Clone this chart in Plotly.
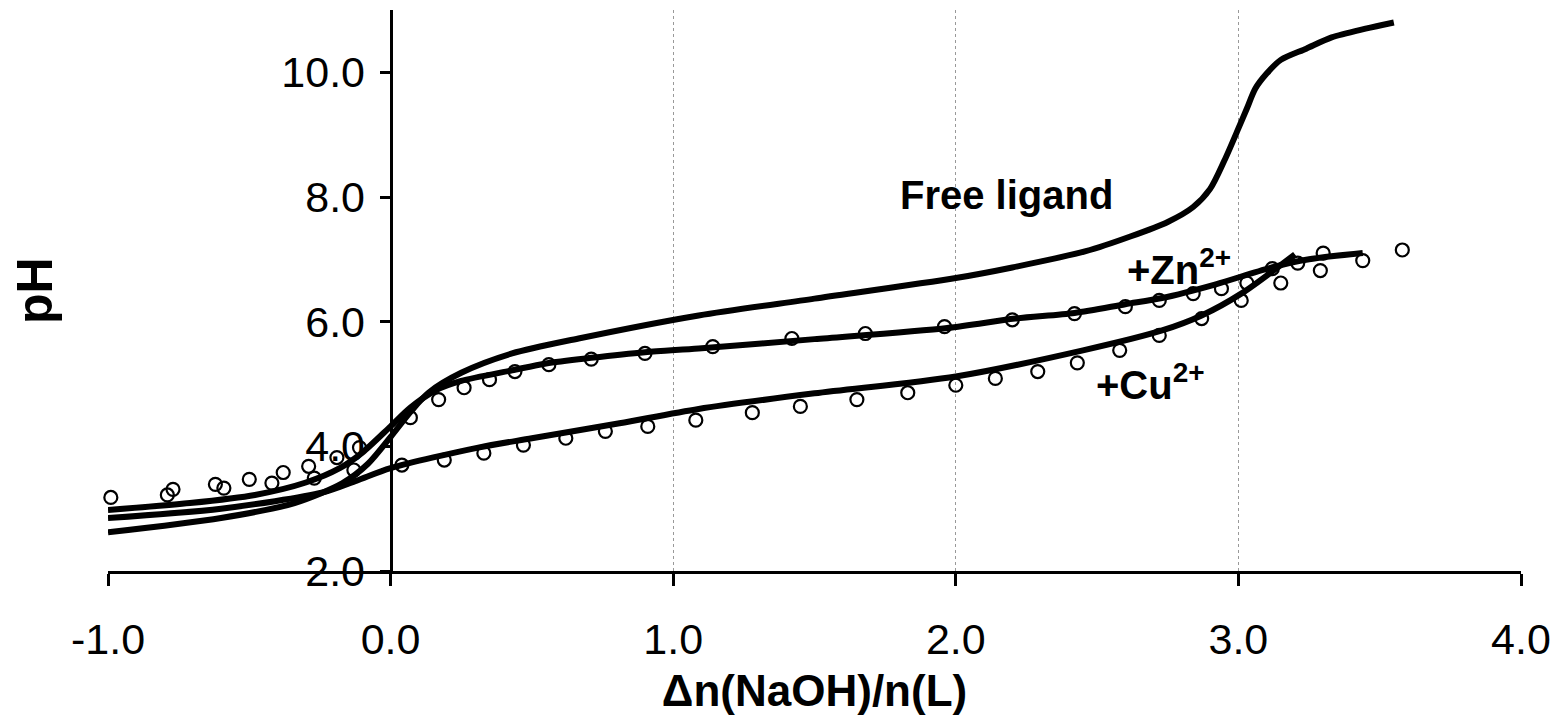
import plotly.graph_objects as go

# Titration curves: pH versus equivalents of NaOH per ligand
free_x = [-1.0, -0.6, -0.34, -0.17, -0.08, 0.0, 0.07, 0.134, 0.25, 0.43, 0.665, 1.09, 1.5, 2.0,
          2.2, 2.46, 2.62, 2.75, 2.84, 2.9, 2.95, 3.0, 3.03, 3.06, 3.1, 3.15, 3.24, 3.33, 3.45, 3.55]
free_y = [2.62, 2.85, 3.09, 3.41, 3.72, 4.15, 4.55, 4.86, 5.18, 5.49, 5.73, 6.1, 6.37, 6.7,
          6.87, 7.13, 7.37, 7.6, 7.84, 8.13, 8.58, 9.1, 9.42, 9.74, 9.98, 10.2, 10.38, 10.56, 10.7, 10.8]

zn_x = [-1.0, -0.71, -0.48, -0.3, -0.18, -0.1, 0.0, 0.07, 0.16, 0.25, 0.43, 0.55, 0.71, 0.9,
        1.09, 1.5, 1.97, 2.21, 2.42, 2.6, 2.73, 2.92, 3.11, 3.25, 3.44]
zn_y = [2.98, 3.09, 3.22, 3.42, 3.65, 3.9, 4.32, 4.62, 4.9, 5.05, 5.22, 5.33, 5.42, 5.51,
        5.57, 5.72, 5.9, 6.05, 6.14, 6.28, 6.38, 6.6, 6.86, 7.0, 7.1]

cu_x = [-1.0, -0.6, -0.24, -0.12, 0.0, 0.31, 0.5, 0.81, 1.09, 1.5, 2.0, 2.45, 2.73, 2.87, 3.01, 3.2]
cu_y = [2.85, 3.0, 3.26, 3.45, 3.65, 3.98, 4.13, 4.37, 4.6, 4.85, 5.12, 5.54, 5.86, 6.1, 6.45, 7.08]

# Measured points
zn_pts_x = [-0.99, -0.77, -0.62, -0.5, -0.38, -0.29, -0.19, -0.11, 0.07, 0.17, 0.26, 0.35, 0.44,
            0.56, 0.71, 0.9, 1.14, 1.42, 1.68, 1.96, 2.2, 2.42, 2.6, 2.72, 2.84, 2.94, 3.03,
            3.12, 3.21, 3.3, 3.44, 3.58]
zn_pts_y = [3.18, 3.31, 3.39, 3.47, 3.58, 3.68, 3.82, 3.98, 4.46, 4.75, 4.94, 5.07, 5.2,
            5.31, 5.4, 5.49, 5.6, 5.73, 5.81, 5.92, 6.03, 6.13, 6.24, 6.34, 6.45, 6.53, 6.62,
            6.85, 6.94, 7.1, 6.98, 7.15]

cu_pts_x = [-0.79, -0.59, -0.42, -0.27, -0.13, 0.04, 0.19, 0.33, 0.47, 0.62, 0.76, 0.91, 1.08,
            1.28, 1.45, 1.65, 1.83, 2.0, 2.14, 2.29, 2.43, 2.58, 2.72, 2.87, 3.01, 3.15, 3.29]
cu_pts_y = [3.22, 3.33, 3.41, 3.49, 3.62, 3.7, 3.78, 3.89, 4.02, 4.13, 4.24, 4.32, 4.42,
            4.54, 4.64, 4.75, 4.86, 4.98, 5.09, 5.2, 5.34, 5.54, 5.78, 6.05, 6.34, 6.62, 6.82]

x_ticks = [-1, 0, 1, 2, 3, 4]
x_tick_text = ["-1.0", "0.0", "1.0", "2.0", "3.0", "4.0"]
y_ticks = [2, 4, 6, 8, 10]
y_tick_text = ["2.0", "4.0", "6.0", "8.0", "10.0"]

FONT = "Liberation Sans, Arial, sans-serif"
TICK_SIZE = 43
LABEL_SIZE = 40

fig = go.Figure()

marker_style = dict(symbol="circle-open", size=13, color="black", line=dict(width=2.2, color="black"))
for px, py in [(zn_pts_x, zn_pts_y), (cu_pts_x, cu_pts_y)]:
    fig.add_trace(go.Scatter(x=px, y=py, mode="markers", marker=marker_style,
                             showlegend=False, cliponaxis=False))

for lx, ly in [(free_x, free_y), (zn_x, zn_y), (cu_x, cu_y)]:
    fig.add_trace(go.Scatter(x=lx, y=ly, mode="lines",
                             line=dict(color="black", width=6, shape="spline", smoothing=0.8),
                             showlegend=False))

fig.update_layout(
    width=1560, height=724,
    margin=dict(l=108, r=39, t=10, b=153),
    paper_bgcolor="white", plot_bgcolor="white",
    font=dict(family=FONT, color="black"),
    xaxis=dict(
        range=[-1, 4], tickvals=x_ticks, ticktext=x_tick_text,
        showline=True, linecolor="black", linewidth=3,
        ticks="outside", ticklen=12, tickwidth=3, tickcolor="black",
        tickfont=dict(size=TICK_SIZE, family=FONT),
        ticklabelstandoff=16,
        showgrid=True, gridcolor="#999999", gridwidth=1, griddash="dot",
        zeroline=False,
        title=dict(text="<b>Δn(NaOH)/n(L)</b>", font=dict(size=44, family=FONT), standoff=14),
    ),
    yaxis=dict(
        range=[2, 11], tickvals=y_ticks, ticktext=y_tick_text,
        anchor="free", position=0.2,
        showline=True, linecolor="black", linewidth=3,
        ticks="outside", ticklen=10, tickwidth=3, tickcolor="black",
        tickfont=dict(size=TICK_SIZE, family=FONT),
        ticklabelstandoff=6,
        showgrid=False, zeroline=False,
    ),
    annotations=[
        dict(text="<b>pH</b>", xref="paper", yref="paper", x=-0.052, y=0.5,
             xanchor="center", yanchor="middle",
             textangle=-90, showarrow=False, font=dict(size=50, family=FONT)),
        dict(text="<b>Free ligand</b>", x=2.18, y=8.03, showarrow=False,
             font=dict(size=LABEL_SIZE, family=FONT)),
        dict(text="<b>+Zn<sup>2+</sup></b>", x=2.79, y=6.88, showarrow=False,
             font=dict(size=LABEL_SIZE, family=FONT)),
        dict(text="<b>+Cu<sup>2+</sup></b>", x=2.69, y=5.04, showarrow=False,
             font=dict(size=LABEL_SIZE, family=FONT)),
    ],
)

fig.write_html("out.html")
